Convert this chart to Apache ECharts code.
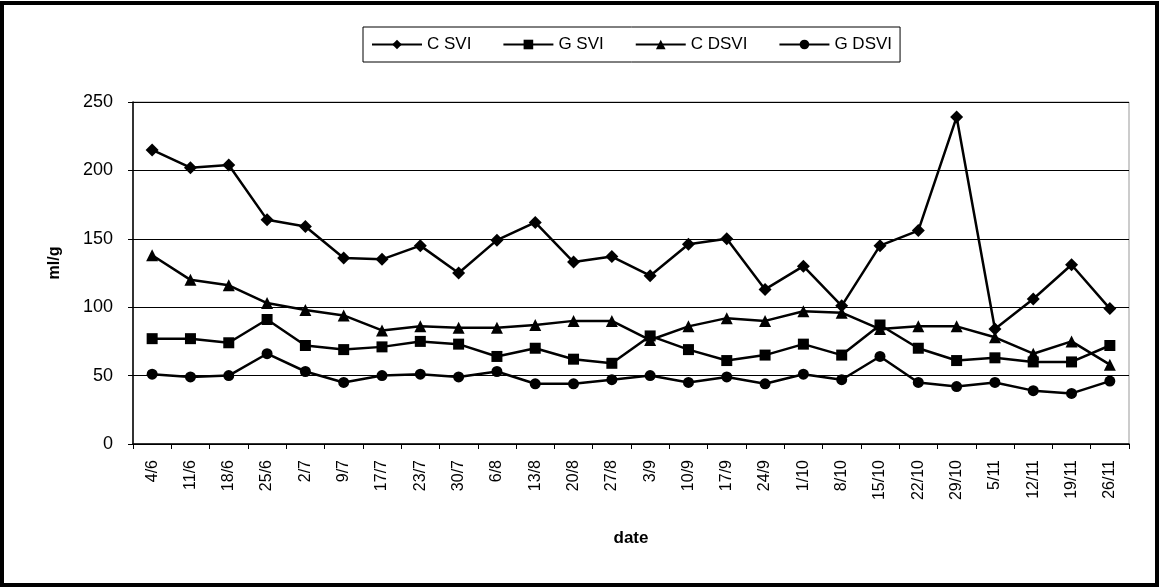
<!DOCTYPE html>
<html>
<head>
<meta charset="utf-8">
<script src="https://cdn.jsdelivr.net/npm/echarts@6/dist/echarts.min.js"></script>
<style>html,body{margin:0;padding:0;background:#fff}#c{width:1159px;height:588px}</style>
</head>
<body>
<div id="c"></div>
<script>
const categories = ['4/6','11/6','18/6','25/6','2/7','9/7','17/7','23/7','30/7','6/8','13/8','20/8','27/8','3/9','10/9','17/9','24/9','1/10','8/10','15/10','22/10','29/10','5/11','12/11','19/11','26/11'];
const cSVI  = [215,202,204,164,159,136,135,145,125,149,162,133,137,123,146,150,113,130,101,145,156,239,84,106,131,99];
const gSVI  = [77,77,74,91,72,69,71,75,73,64,70,62,59,79,69,61,65,73,65,87,70,61,63,60,60,72];
const cDSVI = [138,120,116,103,98,94,83,86,85,85,87,90,90,76,86,92,90,97,96,84,86,86,78,66,75,58];
const gDSVI = [51,49,50,66,53,45,50,51,49,53,44,44,47,50,45,49,44,51,47,64,45,42,45,39,37,46];
const yTicks = [0,50,100,150,200,250];

const chart = echarts.init(document.getElementById('c'));
const font = 'Arial, "Liberation Sans", sans-serif';
function mk(name, data, symbol, size) {
  return {
    name, type: 'line', data, symbol, symbolSize: size,
    itemStyle: { color: '#000' },
    lineStyle: { color: '#000', width: 2.5 },
    animation: false
  };
}
chart.setOption({
  backgroundColor: '#fff',
  graphic: [{
    type: 'rect', shape: { x: 2, y: 3, width: 1155, height: 582 },
    style: { fill: 'none', stroke: '#000', lineWidth: 4 }, silent: true
  }],
  legend: {
    top: 27, left: 363,
    itemWidth: 50, itemHeight: 12, itemGap: 31,
    borderColor: '#000', borderWidth: 1, padding: [9, 8],
    textStyle: { fontFamily: font, fontSize: 17, color: '#000' },
    data: ['C SVI','G SVI','C DSVI','G DSVI']
  },
  grid: { left: 133, right: 30, top: 102, bottom: 144, show: true, borderColor: '#999', borderWidth: 1 },
  xAxis: {
    type: 'category', data: categories, boundaryGap: true,
    name: 'date', nameLocation: 'middle', nameGap: 86,
    nameTextStyle: { fontFamily: font, fontSize: 17, fontWeight: 'bold', color: '#000' },
    axisLine: { lineStyle: { color: '#000', width: 1.5 } },
    axisTick: { show: true, length: 5, lineStyle: { color: '#000' } },
    axisLabel: { rotate: 90, interval: 0, fontFamily: font, fontSize: 16, color: '#000', margin: 16 }
  },
  yAxis: {
    type: 'value', min: 0, max: 250, interval: 50,
    name: 'ml/g', nameLocation: 'middle', nameGap: 70, nameRotate: 90,
    nameTextStyle: { fontFamily: font, fontSize: 16, fontWeight: 'bold', color: '#000', padding: [0, 0, 0, 20] },
    axisLine: { show: true, lineStyle: { color: '#000', width: 1.5 } },
    axisTick: { show: true, length: 5, lineStyle: { color: '#000' } },
    axisLabel: { fontFamily: font, fontSize: 18, color: '#000', margin: 20,
      formatter: v => yTicks.includes(v) ? String(v) : '' },
    splitLine: { lineStyle: { color: '#000', width: 1 } }
  },
  series: [
    mk('C SVI', cSVI, 'diamond', 13),
    mk('G SVI', gSVI, 'rect', 11),
    mk('C DSVI', cDSVI, 'triangle', 12),
    mk('G DSVI', gDSVI, 'circle', 11)
  ]
});
</script>
</body>
</html>
